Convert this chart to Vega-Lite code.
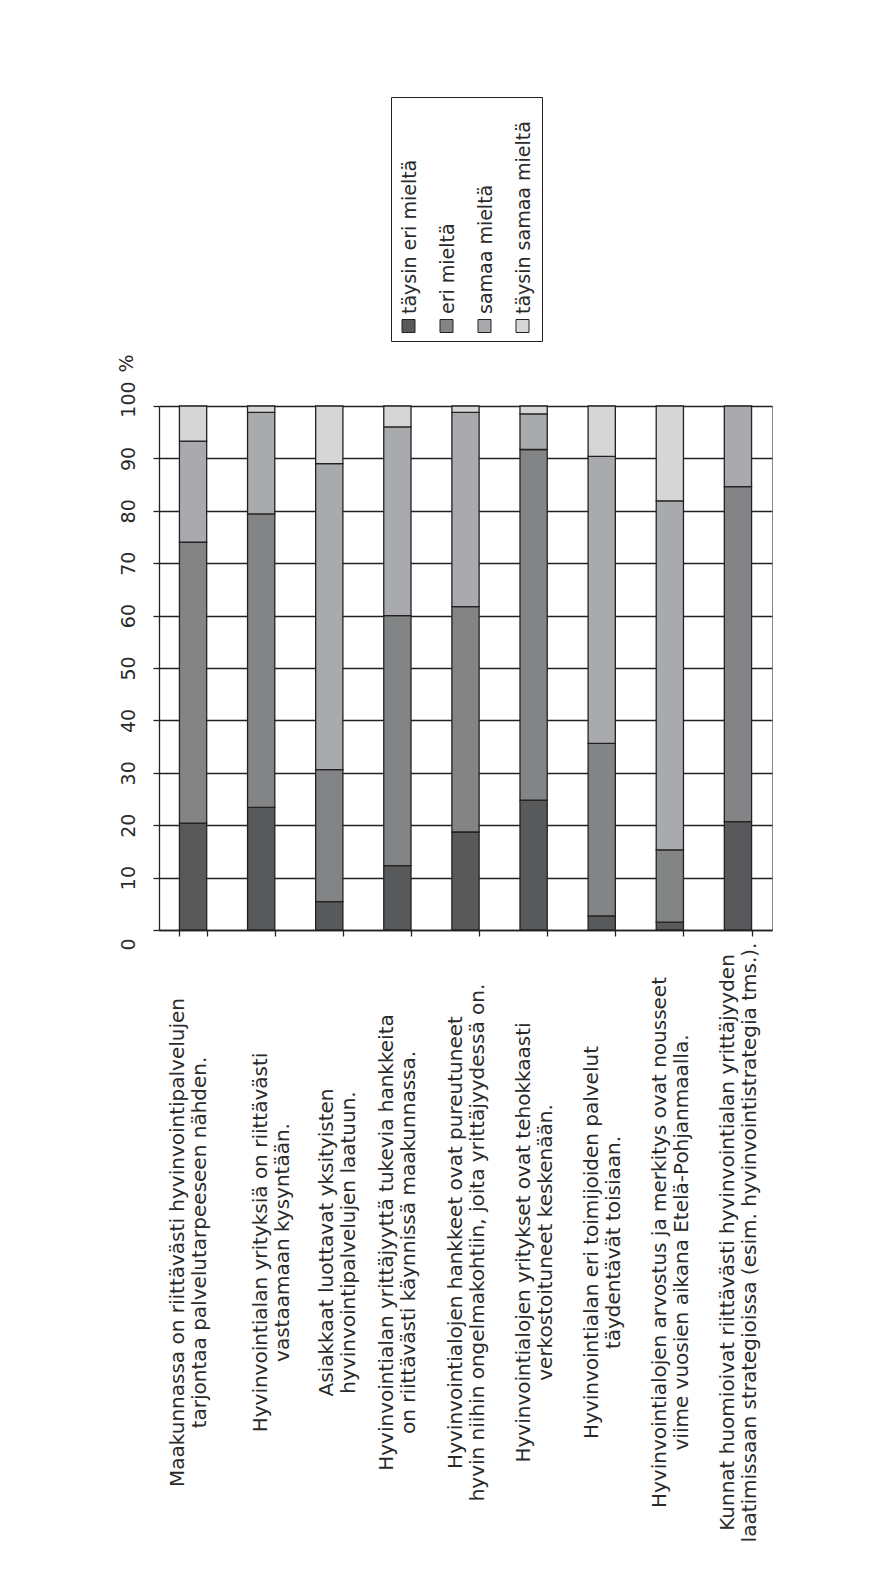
{
  "$schema": "https://vega.github.io/schema/vega-lite/v6.json",
  "width": 613,
  "height": 524,
  "autosize": {"type": "none"},
  "padding": {"left": 159, "top": 406, "right": 107, "bottom": 652},
  "background": "white",
  "config": {
    "view": {"stroke": "#8a8a8a", "strokeWidth": 1},
    "font": "DejaVu Sans"
  },
  "data": {
    "values": [
      {"statement": "Maakunnassa on riittävästi hyvinvointipalvelujen\ntarjontaa palvelutarpeeseen nähden.", "answer": "täysin eri mieltä", "rank": 1, "share": 20.4},
      {"statement": "Maakunnassa on riittävästi hyvinvointipalvelujen\ntarjontaa palvelutarpeeseen nähden.", "answer": "eri mieltä", "rank": 2, "share": 53.6},
      {"statement": "Maakunnassa on riittävästi hyvinvointipalvelujen\ntarjontaa palvelutarpeeseen nähden.", "answer": "samaa mieltä", "rank": 3, "share": 19.3},
      {"statement": "Maakunnassa on riittävästi hyvinvointipalvelujen\ntarjontaa palvelutarpeeseen nähden.", "answer": "täysin samaa mieltä", "rank": 4, "share": 6.7},

      {"statement": "Hyvinvointialan yrityksiä on riittävästi\nvastaamaan kysyntään.", "answer": "täysin eri mieltä", "rank": 1, "share": 23.4},
      {"statement": "Hyvinvointialan yrityksiä on riittävästi\nvastaamaan kysyntään.", "answer": "eri mieltä", "rank": 2, "share": 56.0},
      {"statement": "Hyvinvointialan yrityksiä on riittävästi\nvastaamaan kysyntään.", "answer": "samaa mieltä", "rank": 3, "share": 19.4},
      {"statement": "Hyvinvointialan yrityksiä on riittävästi\nvastaamaan kysyntään.", "answer": "täysin samaa mieltä", "rank": 4, "share": 1.2},

      {"statement": "Asiakkaat luottavat yksityisten\nhyvinvointipalvelujen laatuun.", "answer": "täysin eri mieltä", "rank": 1, "share": 5.4},
      {"statement": "Asiakkaat luottavat yksityisten\nhyvinvointipalvelujen laatuun.", "answer": "eri mieltä", "rank": 2, "share": 25.2},
      {"statement": "Asiakkaat luottavat yksityisten\nhyvinvointipalvelujen laatuun.", "answer": "samaa mieltä", "rank": 3, "share": 58.4},
      {"statement": "Asiakkaat luottavat yksityisten\nhyvinvointipalvelujen laatuun.", "answer": "täysin samaa mieltä", "rank": 4, "share": 11.0},

      {"statement": "Hyvinvointialan yrittäjyyttä tukevia hankkeita\non riittävästi käynnissä maakunnassa.", "answer": "täysin eri mieltä", "rank": 1, "share": 12.3},
      {"statement": "Hyvinvointialan yrittäjyyttä tukevia hankkeita\non riittävästi käynnissä maakunnassa.", "answer": "eri mieltä", "rank": 2, "share": 47.7},
      {"statement": "Hyvinvointialan yrittäjyyttä tukevia hankkeita\non riittävästi käynnissä maakunnassa.", "answer": "samaa mieltä", "rank": 3, "share": 36.0},
      {"statement": "Hyvinvointialan yrittäjyyttä tukevia hankkeita\non riittävästi käynnissä maakunnassa.", "answer": "täysin samaa mieltä", "rank": 4, "share": 4.0},

      {"statement": "Hyvinvointialojen hankkeet ovat pureutuneet\nhyvin niihin ongelmakohtiin, joita yrittäjyydessä on.", "answer": "täysin eri mieltä", "rank": 1, "share": 18.7},
      {"statement": "Hyvinvointialojen hankkeet ovat pureutuneet\nhyvin niihin ongelmakohtiin, joita yrittäjyydessä on.", "answer": "eri mieltä", "rank": 2, "share": 43.0},
      {"statement": "Hyvinvointialojen hankkeet ovat pureutuneet\nhyvin niihin ongelmakohtiin, joita yrittäjyydessä on.", "answer": "samaa mieltä", "rank": 3, "share": 37.1},
      {"statement": "Hyvinvointialojen hankkeet ovat pureutuneet\nhyvin niihin ongelmakohtiin, joita yrittäjyydessä on.", "answer": "täysin samaa mieltä", "rank": 4, "share": 1.2},

      {"statement": "Hyvinvointialojen yritykset ovat tehokkaasti\nverkostoituneet keskenään.", "answer": "täysin eri mieltä", "rank": 1, "share": 24.8},
      {"statement": "Hyvinvointialojen yritykset ovat tehokkaasti\nverkostoituneet keskenään.", "answer": "eri mieltä", "rank": 2, "share": 66.9},
      {"statement": "Hyvinvointialojen yritykset ovat tehokkaasti\nverkostoituneet keskenään.", "answer": "samaa mieltä", "rank": 3, "share": 6.8},
      {"statement": "Hyvinvointialojen yritykset ovat tehokkaasti\nverkostoituneet keskenään.", "answer": "täysin samaa mieltä", "rank": 4, "share": 1.5},

      {"statement": "Hyvinvointialan eri toimijoiden palvelut\ntäydentävät toisiaan.", "answer": "täysin eri mieltä", "rank": 1, "share": 2.7},
      {"statement": "Hyvinvointialan eri toimijoiden palvelut\ntäydentävät toisiaan.", "answer": "eri mieltä", "rank": 2, "share": 32.9},
      {"statement": "Hyvinvointialan eri toimijoiden palvelut\ntäydentävät toisiaan.", "answer": "samaa mieltä", "rank": 3, "share": 54.8},
      {"statement": "Hyvinvointialan eri toimijoiden palvelut\ntäydentävät toisiaan.", "answer": "täysin samaa mieltä", "rank": 4, "share": 9.6},

      {"statement": "Hyvinvointialojen arvostus ja merkitys ovat nousseet\nviime vuosien aikana Etelä-Pohjanmaalla.", "answer": "täysin eri mieltä", "rank": 1, "share": 1.5},
      {"statement": "Hyvinvointialojen arvostus ja merkitys ovat nousseet\nviime vuosien aikana Etelä-Pohjanmaalla.", "answer": "eri mieltä", "rank": 2, "share": 13.8},
      {"statement": "Hyvinvointialojen arvostus ja merkitys ovat nousseet\nviime vuosien aikana Etelä-Pohjanmaalla.", "answer": "samaa mieltä", "rank": 3, "share": 66.6},
      {"statement": "Hyvinvointialojen arvostus ja merkitys ovat nousseet\nviime vuosien aikana Etelä-Pohjanmaalla.", "answer": "täysin samaa mieltä", "rank": 4, "share": 18.1},

      {"statement": "Kunnat huomioivat riittävästi hyvinvointialan yrittäjyyden\nlaatimissaan strategioissa (esim. hyvinvointistrategia tms.).", "answer": "täysin eri mieltä", "rank": 1, "share": 20.7},
      {"statement": "Kunnat huomioivat riittävästi hyvinvointialan yrittäjyyden\nlaatimissaan strategioissa (esim. hyvinvointistrategia tms.).", "answer": "eri mieltä", "rank": 2, "share": 63.9},
      {"statement": "Kunnat huomioivat riittävästi hyvinvointialan yrittäjyyden\nlaatimissaan strategioissa (esim. hyvinvointistrategia tms.).", "answer": "samaa mieltä", "rank": 3, "share": 15.4}
    ]
  },
  "mark": {"type": "bar", "stroke": "#222222", "strokeWidth": 1.3},
  "encoding": {
    "x": {
      "field": "statement",
      "type": "nominal",
      "sort": null,
      "scale": {"paddingInner": 0.6, "paddingOuter": 0.3},
      "axis": {
        "title": null,
        "grid": false,
        "tickBand": "extent",
        "tickSize": 6,
        "tickColor": "#222222",
        "tickWidth": 1.3,
        "domainColor": "#222222",
        "domainWidth": 1.3,
        "labelAngle": 270,
        "labelAlign": "center",
        "labelBaseline": "middle",
        "labelPadding": 306,
        "labelFont": "DejaVu Sans",
        "labelFontSize": 20,
        "labelLineHeight": 22,
        "labelColor": "#2a2a2a",
        "labelLimit": 900,
        "labelExpr": "split(datum.label, '\\n')",
        "labelOffset": {
          "condition": [
            {"test": "indexof(datum.label, 'Maakunnassa') === 0", "value": -16},
            {"test": "indexof(datum.label, 'kysyntään') >= 0", "value": -1},
            {"test": "indexof(datum.label, 'Asiakkaat') === 0", "value": -3}
          ],
          "value": -10.5
        }
      }
    },
    "y": {
      "field": "share",
      "type": "quantitative",
      "stack": "zero",
      "scale": {"domain": [0, 100], "nice": false},
      "axis": {
        "title": "%",
        "titleX": -33,
        "titleY": -43,
        "titleAngle": 270,
        "titleAlign": "center",
        "titleBaseline": "middle",
        "titleFont": "DejaVu Sans",
        "titleFontSize": 19,
        "titleFontWeight": "normal",
        "titleColor": "#2a2a2a",
        "values": [0, 10, 20, 30, 40, 50, 60, 70, 80, 90, 100],
        "grid": true,
        "gridColor": "#222222",
        "gridWidth": 1.3,
        "tickSize": 6,
        "tickColor": "#222222",
        "tickWidth": 1.3,
        "domainColor": "#222222",
        "domainWidth": 1.3,
        "labelAngle": 270,
        "labelAlign": "center",
        "labelBaseline": "middle",
        "labelPadding": 25,
        "labelFont": "DejaVu Sans",
        "labelFontSize": 19,
        "labelColor": "#2a2a2a",
        "labelOffset": {
          "condition": [
            {"test": "datum.value === 0", "value": 14},
            {"test": "datum.value === 100", "value": -7}
          ],
          "value": 0
        }
      }
    },
    "order": {"field": "rank", "type": "quantitative", "sort": "ascending"},
    "color": {
      "field": "answer",
      "type": "nominal",
      "scale": {
        "domain": ["täysin eri mieltä", "eri mieltä", "samaa mieltä", "täysin samaa mieltä"],
        "range": ["#58595b", "#838486", "#a9aaad", "#d6d6d6"]
      },
      "legend": {
        "title": null,
        "orient": "none",
        "legendX": 232,
        "legendY": -309,
        "direction": "horizontal",
        "columns": 4,
        "columnPadding": 17,
        "padding": 8,
        "clipHeight": 228,
        "strokeColor": "#222222",
        "fillColor": "white",
        "symbolType": "square",
        "symbolSize": 169,
        "symbolStrokeColor": "#222222",
        "symbolStrokeWidth": 1,
        "symbolOpacity": 1,
        "labelFont": "DejaVu Sans",
        "labelFontSize": 19,
        "labelColor": "#2a2a2a",
        "labelLimit": 400,
        "labelOffset": 0,
        "encode": {
          "symbols": {
            "update": {
              "y": {"value": 221}
            }
          },
          "labels": {
            "update": {
              "y": {"value": 221},
              "angle": {"value": -90},
              "dx": {"value": 12},
              "dy": {"value": -8.5},
              "align": {"value": "left"},
              "baseline": {"value": "middle"}
            }
          }
        }
      }
    }
  }
}
